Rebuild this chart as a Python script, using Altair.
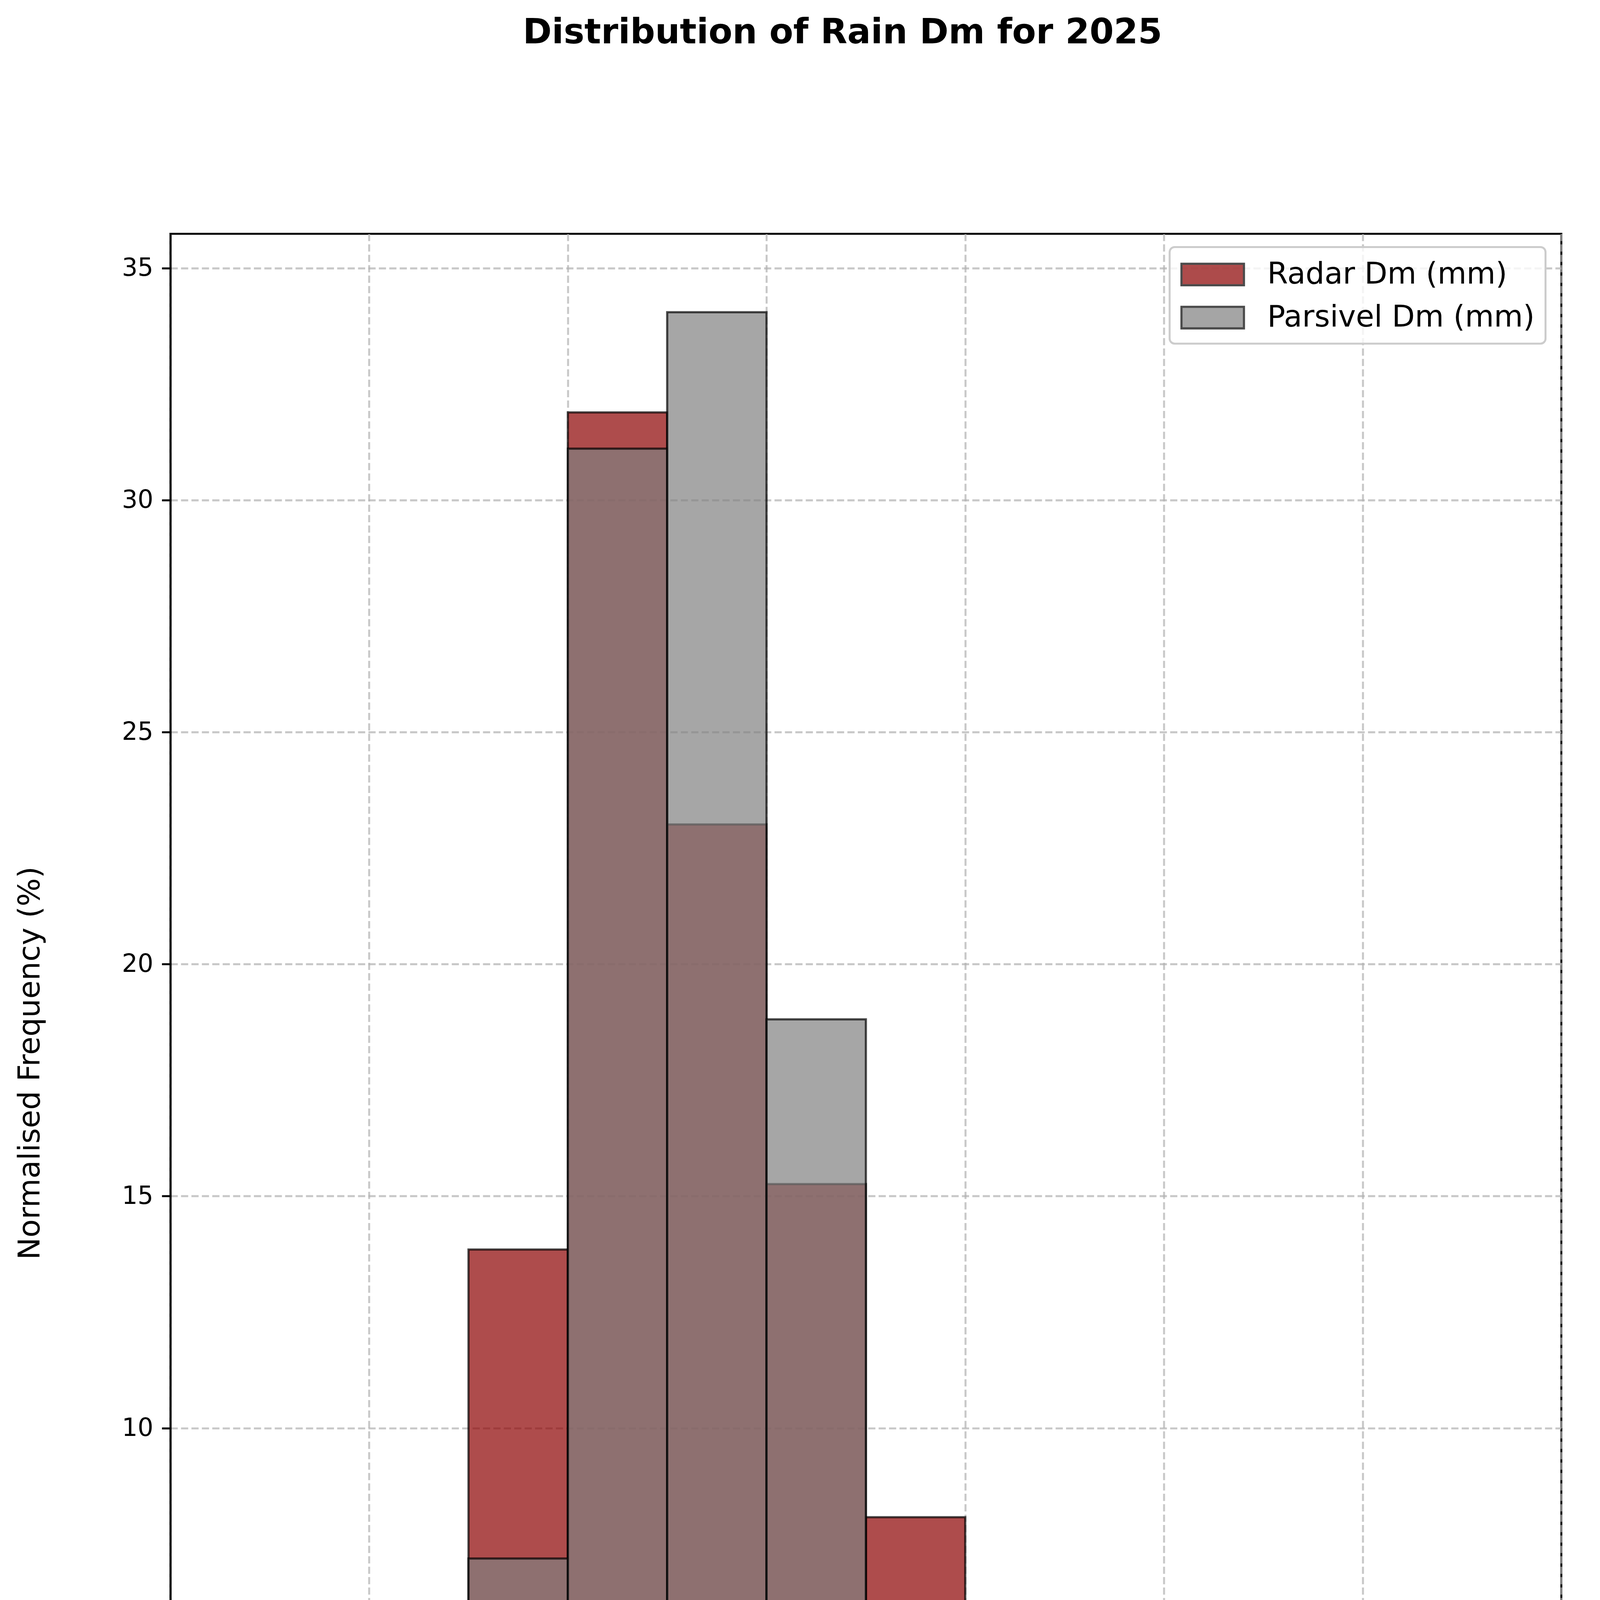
import altair as alt
import pandas as pd

# ---- data ----
bin_start = [0.0, 0.25, 0.5, 0.75, 1.0, 1.25, 1.5, 1.75, 2.0, 2.25, 2.5, 2.75]
bin_width = 0.25
radar_pct = [3.01, 13.85, 31.89, 23.01, 15.26, 8.08, 3.62, 1.23, 0.0, 0.0, 0.0, 0.0]
parsivel_pct = [0.0, 7.19, 31.11, 34.05, 18.81, 6.09, 1.68, 0.54, 0.13, 0.075, 0.044, 0.036]
series_names = ["Radar Dm (mm)", "Parsivel Dm (mm)"]
series_colors = ["#8b0000", "#808080"]
x_ticks = [-0.5, 0.0, 0.5, 1.0, 1.5, 2.0, 2.5, 3.0]
y_ticks = [0, 5, 10, 15, 20, 25, 30, 35]

rows = []
for name, vals in zip(series_names, [radar_pct, parsivel_pct]):
    for b, v in zip(bin_start, vals):
        rows.append({"series": name, "x0": b, "x1": b + bin_width, "pct": v})
df = pd.DataFrame(rows)

W, H = 3874, 4619
FONT = "DejaVu Sans"

x_enc = alt.X(
    "x0:Q",
    scale=alt.Scale(domain=[-0.5, 3.0], nice=False, zero=False),
    axis=alt.Axis(
        values=x_ticks,
        labelExpr="replace(format(datum.value, '.1f'), '-', '\u2212')",
        labelFontSize=69, labelFont=FONT, labelColor="black", labelPadding=20,
        tickSize=24, tickWidth=5.5, tickColor="black",
        domainColor="black", domainWidth=5.5,
        grid=True, gridDash=[20, 9], gridColor="#b0b0b0", gridOpacity=0.7, gridWidth=5.5,
        title="Dm (mm)", titleFontSize=69, titleFont=FONT, titleFontWeight="normal",
        titleColor="black", titleX=W / 2, titleY=177, titleBaseline="middle",
        titleAlign="center",
    ),
)
y_enc = alt.Y(
    "pct:Q",
    stack=None,
    scale=alt.Scale(domain=[0, 35.74], nice=False),
    axis=alt.Axis(
        values=y_ticks,
        labelFontSize=69, labelFont=FONT, labelColor="black", labelPadding=24,
        tickSize=24, tickWidth=5.5, tickColor="black",
        domainColor="black", domainWidth=5.5,
        grid=True, gridDash=[20, 9], gridColor="#b0b0b0", gridOpacity=0.7, gridWidth=5.5,
        title="Normalised Frequency (%)", titleFontSize=83, titleFont=FONT,
        titleFontWeight="normal", titleColor="black", titleX=-390, titleY=H / 2,
        titleAngle=270, titleBaseline="middle", titleAlign="center",
    ),
)
color_enc = alt.Color(
    "series:N",
    scale=alt.Scale(domain=series_names, range=series_colors),
    legend=alt.Legend(
        title=None, orient="none", legendX=2783, legendY=37, direction="vertical",
        labelFontSize=83, labelFont=FONT, labelColor="black", labelOffset=149,
        labelLimit=3000,
        symbolType="M-1,-0.69H3V0.69H-1Z", symbolSize=7569,
        symbolStrokeColor="black", symbolStrokeWidth=6, symbolOpacity=0.7,
        padding=30, fillColor="rgba(255,255,255,0.8)",
        strokeColor="#cccccc", cornerRadius=14,
    ),
)

base = alt.Chart(df).mark_bar(
    fillOpacity=0.7, stroke="black", strokeOpacity=0.7, strokeWidth=6
).encode(x=x_enc, x2="x1:Q", y=y_enc, y2=alt.datum(0), color=color_enc)

radar = base.transform_filter(alt.datum.series == series_names[0])
parsivel = base.transform_filter(alt.datum.series == series_names[1])

chart = (
    alt.layer(radar, parsivel)
    .properties(
        width=W, height=H,
        background="white",
        title=alt.TitleParams(
            "Distribution of Rain Dm for 2025", fontSize=97, fontWeight="bold",
            font=FONT, color="black", anchor="middle", frame="group", dx=-65,
            offset=433, baseline="alphabetic",
        ),
        autosize=alt.AutoSizeParams(type="none"),
        padding={"left": 466, "top": 400, "right": 99, "bottom": 490},
    )
    .configure_view(stroke="black", strokeWidth=5.5)
    .configure_legend(rowPadding=31, strokeWidth=5.5)
)

chart.save("out.html", embed_options={"renderer": "svg", "actions": False})
